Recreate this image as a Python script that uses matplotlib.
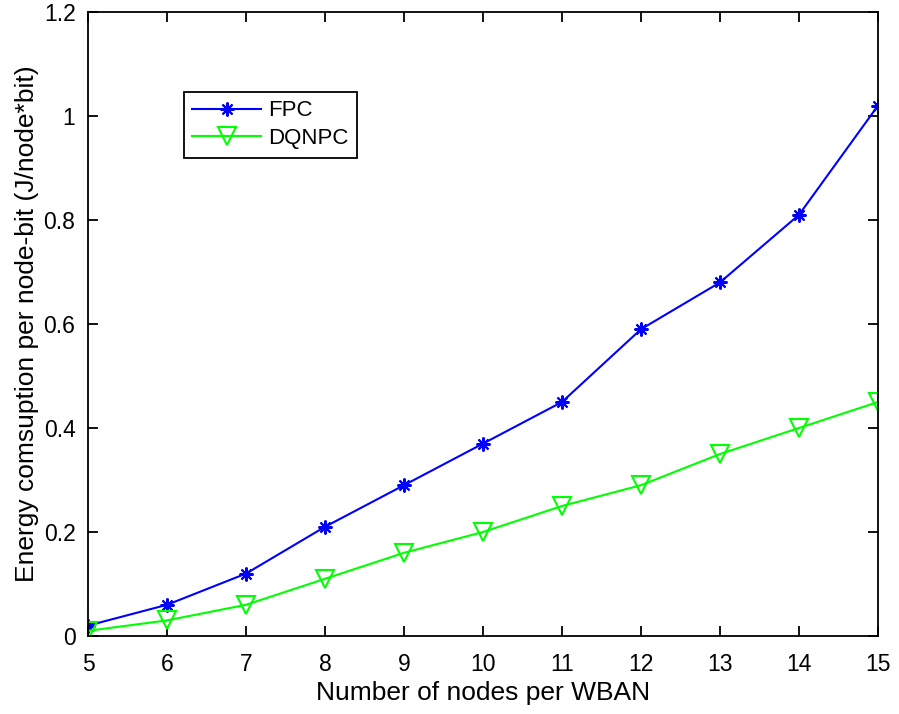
import matplotlib
matplotlib.use("Agg")
import matplotlib.pyplot as plt

# Data
nodes = [5, 6, 7, 8, 9, 10, 11, 12, 13, 14, 15]
fpc = [0.02, 0.06, 0.12, 0.21, 0.29, 0.37, 0.45, 0.59, 0.68, 0.81, 1.02]
dqnpc = [0.01, 0.03, 0.06, 0.11, 0.16, 0.20, 0.25, 0.29, 0.35, 0.40, 0.45]
xticks = list(range(5, 16))
yticks = [0, 0.2, 0.4, 0.6, 0.8, 1.0, 1.2]
yticklabels = ["0", "0.2", "0.4", "0.6", "0.8", "1", "1.2"]

plt.rcParams["font.family"] = ["Liberation Sans", "DejaVu Sans"]

fig = plt.figure(figsize=(8.99, 7.14), dpi=100)
ax = fig.add_axes([88 / 899, 1 - 636 / 714, (878 - 88) / 899, (636 - 12) / 714])

ax.plot(nodes, fpc, color="#0000ff", lw=1.5, marker=(8, 2, 0), ms=10,
        mew=1.5, label="FPC")
ax.plot(nodes, dqnpc, color="#00ff00", lw=1.5, marker="v", ms=13,
        mfc="none", mew=1.5, label="DQNPC")

ax.set_xlim(5, 15)
ax.set_ylim(0, 1.2)
ax.set_xticks(xticks)
ax.set_yticks(yticks)
ax.set_yticklabels(yticklabels)
ax.tick_params(direction="in", top=True, right=True, labelsize=16.5,
               length=7, width=1.3)
ax.tick_params(axis="x", pad=12)
ax.tick_params(axis="y", pad=9)
for s in ax.spines.values():
    s.set_linewidth(1.3)

ax.set_xlabel("Number of nodes per WBAN", fontsize=19, labelpad=4)
ax.set_ylabel("Energy comsuption per node-bit (J/node*bit)", fontsize=19, labelpad=3)

leg = ax.legend(loc="upper left", bbox_to_anchor=((184 - 88) / 790, (636 - 92) / 624),
                fontsize=16, fancybox=False, edgecolor="black", framealpha=1,
                borderpad=0.38, handlelength=3.1, handletextpad=0.3,
                labelspacing=0.3, borderaxespad=0)
leg.get_frame().set_linewidth(1.3)

fig.savefig("out.png", dpi=100)
plt.close(fig)
